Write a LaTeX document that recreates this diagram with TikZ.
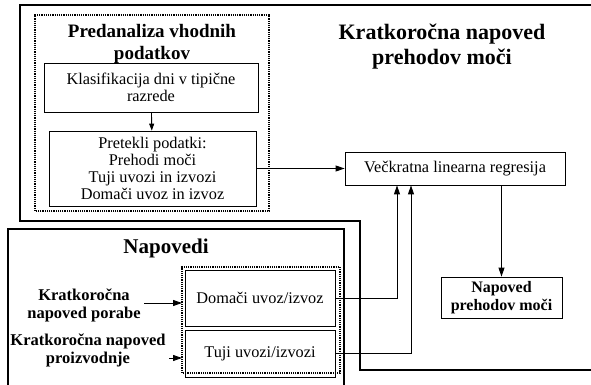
\documentclass[tikz,border=0pt]{standalone}
\usepackage{fontspec}
\setmainfont{Liberation Serif}
\usetikzlibrary{arrows.meta,positioning,calc}

\begin{document}
\begin{tikzpicture}[x=1pt, y=1pt,
    block/.style={draw, line width=0.8pt, align=center, inner sep=1pt, font=\fontsize{16.3}{17}\selectfont},
    frame/.style={draw, line width=1.4pt},
    dotbox/.style={draw, densely dotted, line width=1.2pt},
    head/.style={align=center, font=\fontsize{16}{18}\selectfont\bfseries},
    arr/.style={-{Triangle[length=9pt, width=6pt]}, line width=0.9pt}
  ]
    \useasboundingbox (0,0) rectangle (591,385);
    \draw[frame] (604,15) -- (360,15) -- (360,164) -- (20,164) -- (20,380) -- (604,380);
    \draw[frame] (8,-6) -- (8,156) -- (344,156) -- (344,-6);
    \draw[dotbox] (35,174) rectangle (269,370);
    \draw[dotbox] (182,12) rectangle (340,118);
    \node[font=\fontsize{22}{25}\selectfont\bfseries, align=center] (title) at (442,338) {Kratkoročna napoved\\prehodov moči};
    \node[font=\fontsize{19}{21.5}\selectfont\bfseries, align=center] (pred) at (152,341) {Predanaliza vhodnih\\podatkov};
    \node[block, minimum width=214pt, minimum height=49pt] (klas) at (151,297.5) {Klasifikacija dni v tipične\\razrede};
    \node[block, minimum width=207pt, minimum height=75pt] (pret) at (152.5,216.5) {Pretekli podatki:\\Prehodi moči\\Tuji uvozi in izvozi\\Domači uvoz in izvoz};
    \node[block, minimum width=220pt, minimum height=33pt] (veck) at (455,216.5) {Večkratna linearna regresija};
    \node[block, head, minimum width=121pt, minimum height=41pt] (napoved) at (501.5,87.5) {Napoved\\prehodov moči};
    \node[font=\fontsize{21}{23}\selectfont\bfseries] (napovedi) at (166,137) {Napovedi};
    \node[block, minimum width=150pt, minimum height=56pt] (domaci) at (260,87) {Domači uvoz/izvoz};
    \node[block, minimum width=150pt, minimum height=47pt] (tuji) at (260,31.5) {Tuji uvozi/izvozi};
    \node[head, font=\fontsize{16.5}{18}\selectfont\bfseries] (poraba) at (84,80) {Kratkoročna\\napoved porabe};
    \node[head, font=\fontsize{16.5}{18}\selectfont\bfseries] (proiz) at (88,35) {Kratkoročna napoved\\proizvodnje};
    \coordinate (d1) at (182,82);
    \coordinate (d2) at (182,27);
    \draw[arr, -{Triangle[length=7pt, width=5pt]}] (klas) -- (pret);
    \draw[arr] (pret) -- (veck);
    \draw[arr] (domaci.east) -| ([xshift=-58pt]veck.south);
    \draw[arr] (tuji.east) -| ([xshift=-44pt]veck.south);
    \draw[arr] (napoved.north |- veck.south) -- (napoved.north);
    \draw[arr] (poraba.east |- d1) -- (d1);
    \draw[arr] (proiz.east |- d2) -- (d2);
  \end{tikzpicture}
\end{document}
